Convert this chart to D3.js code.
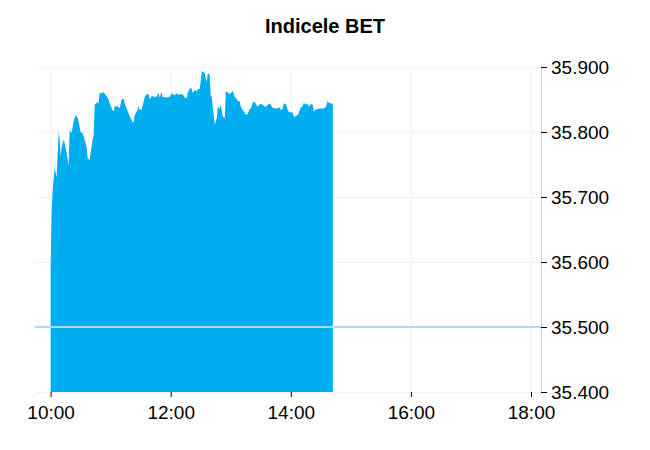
<!DOCTYPE html>
<html>
<head>
<meta charset="utf-8">
<script src="https://cdn.jsdelivr.net/npm/d3@7"></script>
<style>
  html, body { margin: 0; padding: 0; background: #fff; }
  svg { display: block; font-family: "Liberation Sans", Arial, sans-serif; }
</style>
</head>
<body>
<svg id="chart" width="650" height="450"></svg>
<script>
const title = "Indicele BET";
const times = [
"10:00","10:01","10:02","10:04","10:06","10:08","10:09","10:10","10:11","10:13",
"10:14","10:15","10:16","10:18","10:19","10:21","10:23","10:24","10:26","10:28",
"10:30","10:32","10:34","10:36","10:37","10:39","10:40","10:42","10:43","10:44",
"10:46","10:48","10:49","10:51","10:53","10:55","10:56","10:58","10:59","11:01",
"11:03","11:04","11:06","11:08","11:09","11:11","11:13","11:14","11:16","11:18",
"11:19","11:21","11:23","11:24","11:26","11:28","11:29","11:31","11:33","11:34",
"11:36","11:38","11:39","11:41","11:43","11:44","11:46","11:48","11:49","11:51",
"11:52","11:54","11:56","11:57","11:59","12:01","12:02","12:04","12:06","12:07",
"12:09","12:11","12:12","12:14","12:16","12:17","12:19","12:21","12:22","12:24",
"12:26","12:27","12:29","12:31","12:32","12:34","12:36","12:37","12:39","12:40",
"12:41","12:42","12:44","12:46","12:47","12:49","12:50","12:52","12:54","12:55",
"12:57","12:59","13:00","13:02","13:04","13:05","13:07","13:09","13:10","13:12",
"13:14","13:15","13:17","13:19","13:20","13:22","13:24","13:25","13:27","13:29",
"13:30","13:32","13:34","13:35","13:37","13:39","13:40","13:42","13:44","13:45",
"13:47","13:48","13:50","13:52","13:53","13:55","13:57","13:58","14:00","14:02",
"14:03","14:05","14:07","14:08","14:10","14:12","14:13","14:15","14:17","14:18",
"14:20","14:22","14:23","14:25","14:27","14:28","14:30","14:32","14:33","14:35",
"14:37","14:38","14:40","14:42"];
const values = [
35593,35675,35710,35745,35730,35800,35790,35762,35777,35788,
35783,35775,35768,35749,35803,35798,35816,35822,35826,35816,
35800,35798,35788,35777,35760,35757,35768,35788,35795,35842,
35845,35845,35860,35860,35861,35857,35855,35850,35844,35836,
35831,35839,35840,35838,35836,35850,35851,35844,35836,35828,
35825,35818,35814,35826,35831,35840,35834,35835,35847,35854,
35858,35858,35850,35855,35855,35853,35855,35860,35853,35862,
35853,35854,35853,35854,35854,35860,35858,35857,35860,35857,
35858,35858,35858,35853,35852,35860,35867,35867,35860,35865,
35862,35866,35866,35891,35894,35890,35877,35890,35888,35855,
35855,35839,35811,35821,35839,35836,35842,35824,35821,35862,
35861,35858,35860,35863,35854,35852,35848,35847,35839,35834,
35830,35826,35828,35836,35836,35845,35847,35843,35839,35843,
35843,35842,35839,35839,35842,35844,35842,35837,35837,35836,
35836,35839,35834,35836,35844,35843,35834,35831,35830,35830,
35823,35825,35826,35830,35838,35840,35845,35842,35844,35839,
35843,35842,35831,35835,35835,35836,35836,35836,35836,35839,
35848,35845,35844,35844];
const previousClose = 35500;
const xTickLabels = ["10:00","12:00","14:00","16:00","18:00"];
const yTickValues = [35400,35500,35600,35700,35800,35900];
const xDomainLabels = ["09:45","18:10"];

(function () {
const svg = d3.select("#chart");
const W = 650, H = 450;
const pLeft = 35, pRight = 541, pTop = 67, pBottom = 392;

const parse = d3.timeParse("%H:%M");
const fmtTime = d3.timeFormat("%H:%M");
const roLocale = d3.formatLocale({decimal: ",", thousands: ".", grouping: [3], currency: ["", " lei"]});
const fmtY = roLocale.format(",.0f");

const x = d3.scaleTime().domain(xDomainLabels.map(parse)).range([35.6, pRight]);
const y = d3.scaleLinear().domain([35400, 35900]).range([pBottom, pTop]);

const data = times.map((t, i) => ({t: parse(t), v: values[i]}));

svg.append("rect").attr("width", W).attr("height", H).attr("fill", "#fff");

// title
svg.append("text").attr("x", 325).attr("y", 33).attr("text-anchor", "middle")
  .attr("font-size", 20).attr("font-weight", "bold").attr("fill", "#000").text(title);

// gridlines
const grid = svg.append("g");
grid.selectAll("line.h").data(yTickValues).join("line")
  .attr("x1", pLeft).attr("x2", pRight)
  .attr("y1", d => Math.round(y(d)) + 0.5).attr("y2", d => Math.round(y(d)) + 0.5)
  .attr("stroke", "#f2f2f2").attr("stroke-width", 1);
grid.selectAll("line.v").data(xTickLabels.map(parse)).join("line")
  .attr("x1", d => Math.round(x(d)) + 0.5).attr("x2", d => Math.round(x(d)) + 0.5)
  .attr("y1", pTop).attr("y2", pBottom)
  .attr("stroke", "#f2f2f2").attr("stroke-width", 1);

// area
const area = d3.area().x(d => x(d.t)).y0(y(35400)).y1(d => y(d.v)).curve(d3.curveLinear);
svg.append("path").datum(data).attr("d", area).attr("fill", "#00aeef");

// reference line
svg.append("line").attr("x1", pLeft).attr("x2", pRight)
  .attr("y1", y(previousClose)).attr("y2", y(previousClose))
  .attr("stroke", "#a7ddf5").attr("stroke-width", 2);

// x axis
const xAxis = d3.axisBottom(x).tickValues(xTickLabels.map(parse)).tickFormat(fmtTime)
  .tickSize(5).tickPadding(9);
const gx = svg.append("g").attr("transform", `translate(0,${pBottom})`).call(xAxis);
gx.select(".domain").remove();
gx.selectAll(".tick line").attr("stroke", "#000");
gx.selectAll(".tick text").attr("font-size", 19).attr("fill", "#000")
  .attr("font-family", "'Liberation Sans', Arial, sans-serif");

// y axis
const yAxis = d3.axisRight(y).tickValues(yTickValues).tickFormat(fmtY).tickSize(6).tickPadding(4);
const gy = svg.append("g").attr("transform", `translate(${pRight},0)`).call(yAxis);
gy.select(".domain").attr("stroke", "#ccd6eb").attr("d", `M0.5,${pTop}V${pBottom + 1}`);
gy.selectAll(".tick line").attr("stroke", "#000");
gy.selectAll(".tick text").attr("font-size", 19).attr("fill", "#000")
  .attr("font-family", "'Liberation Sans', Arial, sans-serif");
})();
</script>
</body>
</html>
